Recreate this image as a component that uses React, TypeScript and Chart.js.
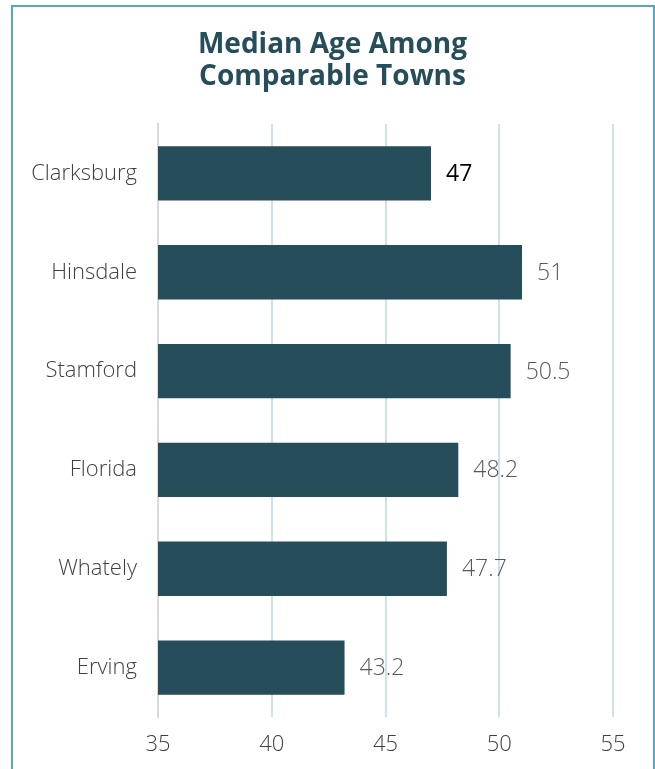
import React, { useEffect, useRef } from "react";
import { Chart, registerables } from "chart.js";

Chart.register(...registerables);

const towns = ["Clarksburg", "Hinsdale", "Stamford", "Florida", "Whately", "Erving"];
const medianAge = [47, 51, 50.5, 48.2, 47.7, 43.2];
const labelText = ["47", "51", "50.5", "48.2", "47.7", "43.2"];
const titleLines = ["Median Age Among", "Comparable Towns"];

const FONT = "'Open Sans', 'DejaVu Sans', sans-serif";

const valueLabels = {
  id: "valueLabels",
  afterDatasetsDraw(chart: any) {
    const ctx = chart.ctx;
    const meta = chart.getDatasetMeta(0);
    ctx.save();
    ctx.textAlign = "left";
    ctx.textBaseline = "middle";
    meta.data.forEach((bar: any, i: number) => {
      const first = i === 0;
      ctx.font = `${first ? 400 : 300} 23px ${FONT}`;
      ctx.fillStyle = first ? "#000000" : "#595959";
      ctx.fillText(labelText[i], bar.x + 15, bar.y + 1);
    });
    ctx.restore();
  },
};

const centeredTitle = {
  id: "centeredTitle",
  afterDraw(chart: any) {
    const ctx = chart.ctx;
    ctx.save();
    ctx.textAlign = "center";
    ctx.textBaseline = "alphabetic";
    ctx.fillStyle = "#264d5a";
    ctx.font = `bold 28px ${FONT}`;
    const cx = chart.width / 2;
    titleLines.forEach((t, i) => ctx.fillText(t, cx, 46 + i * 32));
    ctx.restore();
  },
};

export default function App() {
  const ref = useRef<HTMLCanvasElement>(null);
  useEffect(() => {
    if (!ref.current) return;
    const chart = new Chart(ref.current, {
      type: "bar",
      data: {
        labels: towns,
        datasets: [
          {
            data: medianAge,
            backgroundColor: "#264d5a",
            borderWidth: 0,
            categoryPercentage: 1,
            barPercentage: 0.55,
          },
        ],
      },
      options: {
        indexAxis: "y",
        animation: false,
        responsive: false,
        layout: { padding: { left: 0, right: 39, top: 117, bottom: 0 } },
        plugins: {
          legend: { display: false },
          tooltip: { enabled: false },
          title: { display: false },
        },
        scales: {
          x: {
            min: 35,
            max: 55,
            ticks: {
              stepSize: 5,
              color: "#404040",
              font: { family: FONT, size: 22, weight: 300 },
              padding: 15,
            },
            grid: {
              color: (c: any) => (c.tick && c.tick.value === 35 ? "rgba(0,0,0,0)" : "#cce2ec"),
              lineWidth: 2,
              drawTicks: false,
            },
            border: { display: false },
            afterFit: (s: any) => {
              s.height = 52;
            },
          },
          y: {
            ticks: {
              color: "#404040",
              font: { family: FONT, size: 22, weight: 300 },
              padding: 21,
            },
            grid: { display: false, drawTicks: false },
            border: { display: true, color: "#d9d9d9", width: 2 },
            afterFit: (s: any) => {
              s.width = 145;
            },
          },
        },
      },
      plugins: [valueLabels, centeredTitle],
    });
    return () => chart.destroy();
  }, []);

  return (
    <div
      style={{
        position: "fixed",
        left: 11,
        top: 5,
        width: 644,
        height: 830,
        boxSizing: "border-box",
        border: "2px solid #55a7c7",
        background: "#fff",
      }}
    >
      <canvas
        ref={ref}
        width={639}
        height={762}
        style={{ position: "absolute", left: 0, top: 0, width: 639, height: 762 }}
      />
    </div>
  );
}
